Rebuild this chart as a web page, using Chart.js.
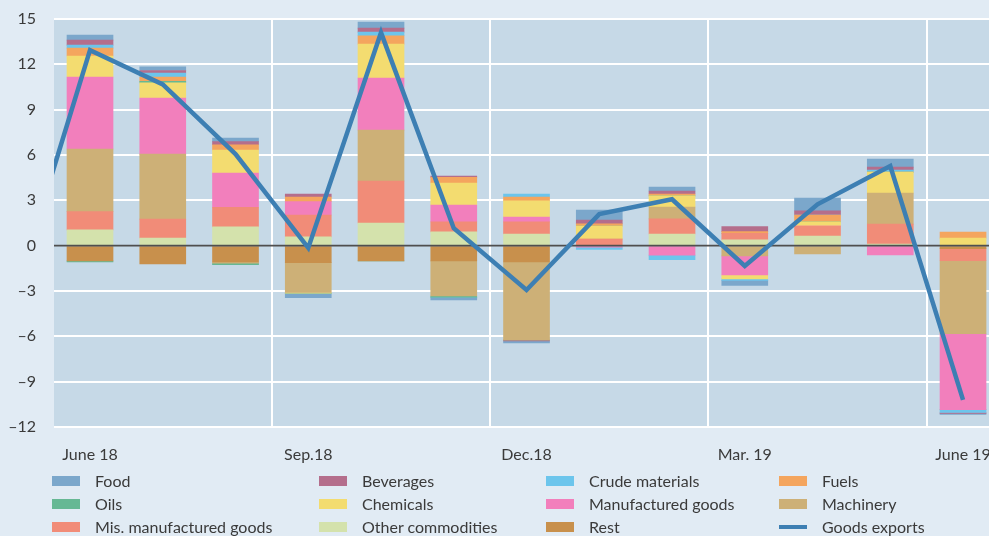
<!DOCTYPE html>
<html>
<head>
<meta charset="utf-8">
<title>Goods exports contributions</title>
<script src="https://cdn.jsdelivr.net/npm/chart.js@4.4.0/dist/chart.umd.min.js"></script>
<style>
  html, body { margin: 0; padding: 0; background: #e1ebf4; }
  #wrap { position: relative; width: 989px; height: 536px; overflow: hidden; font-family: Lato, sans-serif; color: #3a3a3a; }
  #chart { position: absolute; left: 0; top: 0; }
  #legend { position: absolute; left: 0; top: 469px; width: 989px; height: 67px; }
  .item { position: absolute; height: 23px; line-height: 23px; font-size: 16px; white-space: nowrap; }
  .item i { position: absolute; left: 0; top: 7px; width: 28px; height: 10px; }
  .item i.line { top: 10px; height: 4px; }
  .item span { position: absolute; left: 43px; top: 0; }
</style>
</head>
<body>
<div id="wrap">
  <canvas id="chart" width="989" height="470"></canvas>
  <div id="legend"></div>
</div>
<script>
// months, index 0 (May 18) only carries the start of the line
const months = ['May 18', 'June 18', 'July 18', 'Aug. 18', 'Sep.18', 'Oct. 18', 'Nov. 18',
  'Dec.18', 'Jan. 19', 'Feb. 19', 'Mar. 19', 'Apr. 19', 'May 19', 'June 19'];
const labelTicks = [1, 4, 7, 10, 13];
const quarterLines = [3.5, 6.5, 9.5, 12.5];

// contributions, June 18 .. June 19 (percentage points)
const rest       = [-1.01, -1.21, -1.08, -1.12, -1.01, -1.01, -1.08, 0, 0, 0, 0, 0, -0.2];
const other      = [1.04, 0.51, 1.24, 0.58, 1.5, 0.91, 0.77, 0, 0.77, 0.38, 0.64, 0.11, 0];
const misManuf   = [1.21, 1.25, 1.3, 1.45, 2.78, 0.66, 0.8, 0.44, 1.0, 0.44, 0.66, 1.32, -0.8];
const machinery  = [4.15, 4.3, -0.08, -1.98, 3.37, -2.32, -5.16, 0, 0.79, -0.68, -0.55, 2.05, -4.83];
const manuf      = [4.76, 3.71, 2.27, 0.88, 3.44, 1.12, 0.33, -0.1, -0.63, -1.26, 0, -0.62, -5.03];
const chemicals  = [1.39, 1.0, 1.52, -0.05, 2.25, 1.46, 1.06, 0.86, 0.73, -0.26, 0.27, 1.39, 0.5];
const oils       = [-0.07, 0.1, -0.1, 0, 0, -0.08, 0, 0, 0, 0, 0, 0, 0];
const fuels      = [0.52, 0.29, 0.35, 0.31, 0.55, 0.37, 0.26, 0.14, 0.13, 0.11, 0.46, 0, 0.4];
const crude      = [0.2, 0.26, 0, 0, 0.24, 0, 0.2, -0.15, -0.3, -0.1, 0, 0.13, -0.18];
const beverages  = [0.33, 0.17, 0.2, 0.2, 0.27, 0.09, -0.07, 0.26, 0.2, 0.34, 0.27, 0.2, -0.06];
const food       = [0.34, 0.25, 0.24, -0.29, 0.4, -0.18, -0.13, 0.66, 0.26, -0.33, 0.85, 0.53, -0.06];

// y-o-y change, May 18 .. June 19
const goodsExports = [-2.75, 12.94, 10.67, 6.06, -0.15, 14.1, 1.15, -2.93, 2.09, 3.07, -1.34, 2.74, 5.27, -10.2];

const legendOrder = ['Food', 'Beverages', 'Crude materials', 'Fuels',
  'Oils', 'Chemicals', 'Manufactured goods', 'Machinery',
  'Mis. manufactured goods', 'Other commodities', 'Rest', 'Goods exports'];
const legendCols = [52, 319, 546, 779];

const barPts = arr => arr.map((v, i) => ({x: i + 1, y: v}));

function barSet(label, arr, color) {
  return {
    label: label,
    data: barPts(arr),
    backgroundColor: color,
    borderWidth: 0,
    barThickness: 46,
    stack: 'goods',
    order: 1
  };
}

const tickVal = c => (c && c.tick) ? c.tick.value : null;

const plotBg = {
  id: 'plotBg',
  beforeDraw(chart) {
    const a = chart.chartArea, ctx = chart.ctx;
    ctx.save();
    ctx.fillStyle = '#c6d9e7';
    ctx.fillRect(a.left, a.top, a.right - a.left, a.bottom - a.top);
    ctx.restore();
  },
  // zero line sits above the bars but under the export line
  beforeDatasetDraw(chart, args) {
    if (args.meta.type !== 'line') return;
    const a = chart.chartArea, ctx = chart.ctx;
    const y0 = chart.scales.y.getPixelForValue(0);
    ctx.save();
    ctx.strokeStyle = '#4f4f4f';
    ctx.lineWidth = 1.6;
    ctx.beginPath();
    ctx.moveTo(a.left, y0);
    ctx.lineTo(a.right, y0);
    ctx.stroke();
    ctx.restore();
  }
};

const tickFont = {family: 'Lato', size: 16};

const chart = new Chart(document.getElementById('chart'), {
  type: 'bar',
  data: {
    datasets: [
      {
        type: 'line',
        label: 'Goods exports',
        data: goodsExports.map((v, i) => ({x: i, y: v})),
        borderColor: '#3d7fb3',
        backgroundColor: '#3d7fb3',
        borderWidth: 4.5,
        borderJoinStyle: 'miter',
        pointRadius: 0,
        tension: 0,
        fill: false,
        stack: 'line',
        order: 0
      },
      barSet('Rest', rest, '#c8904c'),
      barSet('Other commodities', other, '#d4e2ac'),
      barSet('Mis. manufactured goods', misManuf, '#f18c78'),
      barSet('Machinery', machinery, '#cdb077'),
      barSet('Manufactured goods', manuf, '#f27fbc'),
      barSet('Chemicals', chemicals, '#f3dc70'),
      barSet('Oils', oils, '#66b894'),
      barSet('Fuels', fuels, '#f4a55e'),
      barSet('Crude materials', crude, '#6cc5ec'),
      barSet('Beverages', beverages, '#b46e8c'),
      barSet('Food', food, '#7ba7cb')
    ]
  },
  options: {
    responsive: false,
    animation: false,
    layout: {padding: {top: 19, left: 0, right: 0, bottom: 0}},
    plugins: {
      legend: {display: false},
      tooltip: {enabled: false}
    },
    scales: {
      x: {
        type: 'linear',
        min: 0.505,
        max: 13.357,
        offset: false,
        stacked: true,
        afterBuildTicks: s => {
          s.ticks = labelTicks.concat(quarterLines).sort((a, b) => a - b).map(v => ({value: v}));
        },
        afterFit: s => { s.height = 43; s.paddingLeft = 0; s.paddingRight = 0; },
        border: {display: false},
        grid: {
          offset: false,
          drawTicks: false,
          lineWidth: 2,
          color: c => quarterLines.includes(tickVal(c)) ? '#ffffff' : 'rgba(0,0,0,0)'
        },
        ticks: {
          autoSkip: false,
          maxRotation: 0,
          padding: 18,
          color: '#3a3a3a',
          font: tickFont,
          callback: v => labelTicks.includes(v) ? months[v] : ''
        }
      },
      y: {
        min: -12,
        max: 15,
        stacked: true,
        afterFit: s => { s.width = 54; s.paddingTop = 0; s.paddingBottom = 0; },
        border: {display: false},
        grid: {
          drawTicks: false,
          lineWidth: 2,
          color: c => tickVal(c) === 0 ? 'rgba(0,0,0,0)' : '#ffffff'
        },
        ticks: {
          stepSize: 3,
          padding: 18,
          color: '#3a3a3a',
          font: tickFont,
          callback: v => v < 0 ? '\u2013' + Math.abs(v) : String(v)
        }
      }
    }
  },
  plugins: [plotBg]
});

// html legend in four columns
const legendEl = document.getElementById('legend');
legendOrder.forEach((name, k) => {
  const ds = chart.data.datasets.find(d => d.label === name);
  const item = document.createElement('div');
  item.className = 'item';
  item.style.left = legendCols[k % 4] + 'px';
  item.style.top = (Math.floor(k / 4) * 23) + 'px';
  const icon = document.createElement('i');
  icon.style.background = ds.type === 'line' ? ds.borderColor : ds.backgroundColor;
  if (ds.type === 'line') icon.className = 'line';
  const txt = document.createElement('span');
  txt.textContent = name;
  item.appendChild(icon);
  item.appendChild(txt);
  legendEl.appendChild(item);
});
</script>
</body>
</html>
